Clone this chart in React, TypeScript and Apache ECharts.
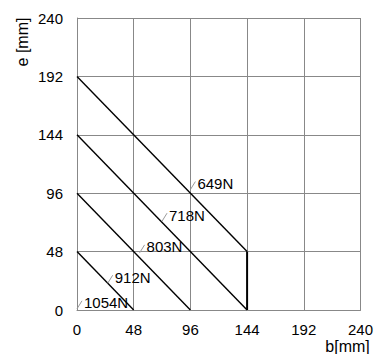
import React, { useEffect, useRef } from "react";
import * as echarts from "echarts";

const xTicks = [0, 48, 96, 144, 192, 240];
const yTicks = [0, 48, 96, 144, 192, 240];

// force lines: [start, end] in (b, e) mm
const line649: number[][] = [[0, 192], [144, 48]];
const line718: number[][] = [[0, 144], [144, 0]];
const line803: number[][] = [[0, 96], [96, 0]];
const line912: number[][] = [[0, 48], [48, 0]];
const limitLine: number[][] = [[144, 48], [144, 0]];

// label anchors (b, e) and texts
const labelNames = ["649N", "718N", "803N", "912N", "1054N"];
const labelB = [96, 72, 53, 26, 0];
const labelE = [99, 73, 47, 22, 1];

const FONT = "'Liberation Sans', Arial, sans-serif";

export default function App() {
  const ref = useRef<HTMLDivElement>(null);
  useEffect(() => {
    if (!ref.current) return;
    const chart = echarts.init(ref.current, undefined, { renderer: "svg" });
    const gridColor = "#888888";
    const lineSeries = (data: number[][], width: number) => ({
      type: "line",
      data,
      symbol: "none",
      lineStyle: { color: "#000", width },
      silent: true,
      z: 3,
    });
    chart.setOption({
      animation: false,
      backgroundColor: "#fff",
      grid: { left: 77, right: 13, top: 18, bottom: 44, containLabel: false },
      xAxis: {
        type: "value",
        min: xTicks[0],
        max: xTicks[xTicks.length - 1],
        interval: xTicks[1] - xTicks[0],
        axisLine: { show: true, lineStyle: { color: gridColor, width: 1 } },
        axisTick: { show: false },
        splitLine: { show: true, lineStyle: { color: gridColor, width: 1 } },
        axisLabel: { color: "#000", fontSize: 15, lineHeight: 15, fontFamily: FONT, margin: 12 },
      },
      yAxis: {
        type: "value",
        min: yTicks[0],
        max: yTicks[yTicks.length - 1],
        interval: yTicks[1] - yTicks[0],
        axisLine: { show: true, lineStyle: { color: gridColor, width: 1 } },
        axisTick: { show: false },
        splitLine: { show: true, lineStyle: { color: gridColor, width: 1 } },
        axisLabel: { color: "#000", fontSize: 15, fontFamily: FONT, margin: 14 },
      },
      graphic: [
        {
          type: "text",
          x: 22,
          y: 42,
          rotation: Math.PI / 2,
          style: {
            text: "e [mm]",
            font: `16px ${FONT}`,
            fill: "#000",
            textAlign: "center",
            textVerticalAlign: "middle",
            verticalAlign: "middle",
          },
        },
        {
          type: "text",
          x: 347.5,
          y: 346,
          style: {
            text: "b[mm]",
            font: `16px ${FONT}`,
            fill: "#000",
            textAlign: "center",
            textVerticalAlign: "middle",
            verticalAlign: "middle",
          },
        },
      ],
      series: [
        lineSeries(line649, 1.4),
        lineSeries(line718, 1.4),
        lineSeries(line803, 1.4),
        lineSeries(line912, 1.4),
        lineSeries(limitLine, 2),
        {
          type: "custom",
          clip: false,
          silent: true,
          z: 4,
          data: labelNames.map((n, i) => [labelB[i], labelE[i], n]),
          renderItem: (params: any, api: any) => {
            const p = api.coord([api.value(0), api.value(1)]);
            const name = labelNames[params.dataIndex];
            return {
              type: "group",
              children: [
                {
                  type: "line",
                  shape: { x1: p[0], y1: p[1], x2: p[0] + 5, y2: p[1] - 8 },
                  style: { stroke: "#9a9a9a", lineWidth: 1 },
                },
                {
                  type: "text",
                  style: {
                    x: p[0] + 7,
                    y: p[1] - 6,
                    text: name,
                    font: `15px ${FONT}`,
                    fill: "#000",
                    textAlign: "left",
                    textVerticalAlign: "middle",
                    verticalAlign: "middle",
                  },
                },
              ],
            };
          },
        },
      ],
    });
    return () => chart.dispose();
  }, []);
  return (
    <div
      ref={ref}
      style={{ position: "fixed", left: 0, top: 0, width: 376, height: 354, background: "#fff" }}
    />
  );
}
